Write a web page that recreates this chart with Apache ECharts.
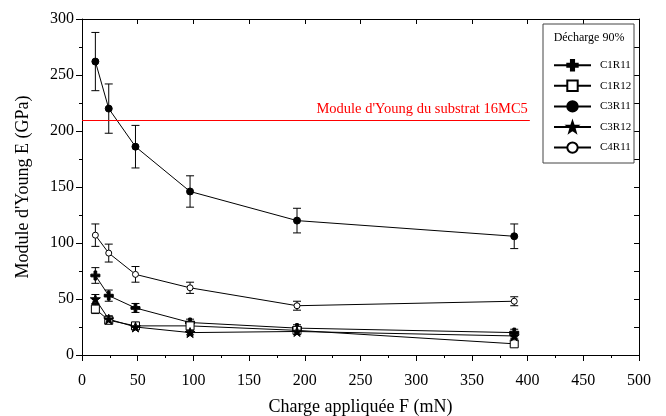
<!DOCTYPE html>
<html><head><meta charset="utf-8">
<script src="https://cdn.jsdelivr.net/npm/echarts@6/dist/echarts.min.js"></script>
<style>html,body{margin:0;padding:0;background:#fff}#c{width:666px;height:416px}</style>
</head><body><div id="c"></div>
<script>
const loads = [12, 24, 48, 97, 193, 388];
const C1R11 = [71, 53, 42, 29, 24, 20];
const C1R11_err = [7, 5, 4, 3, 3, 3];
const C1R12 = [41, 31, 26, 26, 22, 10];
const C1R12_err = [4, 3, 2, 2, 2, 2];
const C3R11 = [262, 220, 186, 146, 120, 106];
const C3R11_err = [26, 22, 19, 14, 11, 11];
const C3R12 = [50, 32, 25, 20, 21, 17];
const C3R12_err = [4, 3, 2, 2, 2, 2];
const C4R11 = [107, 91, 72, 60, 44, 48];
const C4R11_err = [10, 8, 7, 5, 4, 4];
const substrate = 210;
const substrateLabel = "Module d'Young du substrat 16MC5";
const legendTitle = 'Décharge 90%';

const FONT = 'Liberation Serif';
const PLUS = 'path://M-3,-10 H3 V-3 H10 V3 H3 V10 H-3 V3 H-10 V-3 H-3Z';
const STAR = 'path://M0,-10 L2.35,-3.24 L9.51,-3.09 L3.8,1.24 L5.88,8.09 L0,4 L-5.88,8.09 L-3.8,1.24 L-9.51,-3.09 L-2.35,-3.24Z';

const defs = [
  {name:'C1R11', v:C1R11, e:C1R11_err, symbol:PLUS, size:9, fill:'#000'},
  {name:'C1R12', v:C1R12, e:C1R12_err, symbol:'rect', size:8, fill:'#fff'},
  {name:'C3R11', v:C3R11, e:C3R11_err, symbol:'circle', size:7, fill:'#000'},
  {name:'C3R12', v:C3R12, e:C3R12_err, symbol:STAR, size:10, fill:'#000'},
  {name:'C4R11', v:C4R11, e:C4R11_err, symbol:'circle', size:6, fill:'#fff'}
];

const series = [];
defs.forEach(d => {
  series.push({
    type:'custom', name:d.name+'_err', xAxisIndex:0, yAxisIndex:0, silent:true, z:1,
    data: loads.map((x,i)=>[x, d.v[i]-d.e[i], d.v[i]+d.e[i]]),
    renderItem:(params, api)=>{
      const lo = api.coord([api.value(0), api.value(1)]);
      const hi = api.coord([api.value(0), api.value(2)]);
      const w = 4;
      const st = {stroke:'#000', lineWidth:1};
      return {type:'group', children:[
        {type:'line', shape:{x1:lo[0],y1:lo[1],x2:hi[0],y2:hi[1]}, style:st},
        {type:'line', shape:{x1:lo[0]-w,y1:lo[1],x2:lo[0]+w,y2:lo[1]}, style:st},
        {type:'line', shape:{x1:hi[0]-w,y1:hi[1],x2:hi[0]+w,y2:hi[1]}, style:st}
      ]};
    }
  });
  series.push({
    type:'line', name:d.name, z:3, xAxisIndex:0, yAxisIndex:0,
    data: loads.map((x,i)=>[x, d.v[i]]),
    symbol:d.symbol, symbolSize:d.size, showAllSymbol:true,
    lineStyle:{color:'#000', width:1},
    itemStyle:{color:d.fill, borderColor:'#000', borderWidth:1}
  });
});
series.push({
  type:'line', name:'substrate', data:[], silent:true, xAxisIndex:0, yAxisIndex:0,
  markLine:{
    silent:true, symbol:'none',
    lineStyle:{color:'#ff0000', width:1.2, type:'solid'},
    label:{show:true, position:'insideEndTop', formatter:substrateLabel, color:'#ff0000', fontFamily:FONT, fontSize:14.5, distance:[2,3]},
    data:[[{coord:[0,substrate]},{coord:[402,substrate]}]]
  }
});
series.push({type:'line', name:'frame', data:[], xAxisIndex:1, yAxisIndex:1, silent:true});

const chart = echarts.init(document.getElementById('c'));
chart.setOption({
  animation:false,
  backgroundColor:'#fff',
  grid:{left:82, right:27, top:19, bottom:61, containLabel:false, outerBoundsMode:'none'},
  xAxis:[
    {type:'value', min:0, max:500, interval:50, position:'bottom',
     name:'Charge appliquée F (mN)', nameLocation:'middle', nameGap:43,
     nameTextStyle:{fontFamily:FONT, fontSize:18, color:'#000'},
     axisLine:{onZero:false, lineStyle:{color:'#000', width:1}},
     axisTick:{show:true, length:6, inside:false, lineStyle:{color:'#000'}},
     minorTick:{show:true, splitNumber:2, length:3, lineStyle:{color:'#000'}},
     splitLine:{show:false},
     axisLabel:{fontFamily:FONT, fontSize:16, color:'#000', margin:18}},
    {type:'value', min:0, max:500, interval:50, position:'top',
     axisLine:{show:true, onZero:false, lineStyle:{color:'#000', width:1}},
     axisTick:{show:true, inside:true, length:5, lineStyle:{color:'#000'}},
     splitLine:{show:false}, axisLabel:{show:false}}
  ],
  yAxis:[
    {type:'value', min:0, max:300, interval:50, position:'left',
     name:"Module d'Young E (GPa)", nameLocation:'middle', nameGap:50,
     nameTextStyle:{fontFamily:FONT, fontSize:18, color:'#000'},
     axisLine:{show:true, onZero:false, lineStyle:{color:'#000', width:1}},
     axisTick:{show:true, length:6, inside:false, lineStyle:{color:'#000'}},
     minorTick:{show:true, splitNumber:2, length:3, lineStyle:{color:'#000'}},
     splitLine:{show:false},
     axisLabel:{fontFamily:FONT, fontSize:16, color:'#000', margin:8}},
    {type:'value', min:0, max:300, interval:25, position:'right',
     axisLine:{show:true, onZero:false, lineStyle:{color:'#000', width:1}},
     axisTick:{show:true, inside:true, length:5, lineStyle:{color:'#000'}},
     splitLine:{show:false}, axisLabel:{show:false}}
  ],
  legend:{
    orient:'vertical', left:548, top:54, itemWidth:37, itemHeight:13, itemGap:8.2,
    data: defs.map(d=>d.name),
    textStyle:{fontFamily:FONT, fontSize:11, color:'#000', padding:[0,0,0,4]},
    selectedMode:false
  },
  graphic:[
    {type:'rect', shape:{x:543, y:24, width:91, height:139}, style:{fill:'none', stroke:'#444', lineWidth:1}, z:10},
    {type:'text', x:589, y:38, style:{text:legendTitle, fontFamily:FONT, fontSize:12, fill:'#000', align:'center', verticalAlign:'middle'}, z:10}
  ],
  series: series
});
</script></body></html>
